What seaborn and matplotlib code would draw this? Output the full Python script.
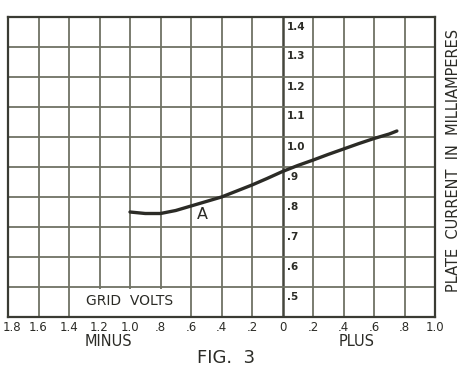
"""
plot.py — Redraw of the vintage 'FIG. 3' grid-volts vs plate-current curve.
"""

import matplotlib
matplotlib.use("Agg")
import matplotlib.pyplot as plt
import matplotlib.patches as mpatches
import matplotlib.transforms as mtransforms
import pandas as pd
import seaborn as sns


# ── Data ─────────────────────────────────────────────────────────────────────
GRID_VOLTS    = [-1.0, -0.9, -0.8, -0.7, -0.6, -0.5, -0.4, -0.3, -0.2, -0.1,
                 0.0, 0.1, 0.2, 0.3, 0.4, 0.5, 0.6, 0.7, 0.75]
PLATE_CURRENT = [0.750, 0.745, 0.745, 0.755, 0.770, 0.785, 0.800, 0.820, 0.840, 0.862,
                 0.885, 0.905, 0.923, 0.942, 0.960, 0.978, 0.995, 1.010, 1.020]

X_TICKS  = [-1.8, -1.6, -1.4, -1.2, -1.0, -0.8, -0.6, -0.4, -0.2, 0.0,
            0.2, 0.4, 0.6, 0.8, 1.0]
X_LABELS = ["1.8", "1.6", "1.4", "1.2", "1.0", ".8", ".6", ".4", ".2", "0",
            ".2", ".4", ".6", ".8", "1.0"]
Y_TICKS  = [0.5, 0.6, 0.7, 0.8, 0.9, 1.0, 1.1, 1.2, 1.3, 1.4]
Y_LABELS = [".5", ".6", ".7", ".8", ".9", "1.0", "1.1", "1.2", "1.3", "1.4"]

INK  = "#2b2b26"
GRID = "#6f7264"

# ── Figure ───────────────────────────────────────────────────────────────────
sns.set_style("white")
plt.rcParams["font.family"] = ["DejaVu Sans"]

fig = plt.figure(figsize=(4.66, 3.71), dpi=100)
ax = fig.add_axes([8 / 466, 1 - 317 / 371, 427 / 466, 300 / 371])

ax.set_xlim(-1.8, 1.0)
ax.set_ylim(0.4, 1.4)

# grid
for x in X_TICKS[1:-1]:
    lw = 1.8 if x == 0 else 1.3
    col = "#45473d" if x == 0 else GRID
    ax.axvline(x, color=col, lw=lw, zorder=1)
for y in Y_TICKS[:-1]:
    ax.axhline(y, color=GRID, lw=1.3, zorder=1)
for side in ax.spines.values():
    side.set_color("#3a3b33")
    side.set_linewidth(1.6)

# curve
df = pd.DataFrame({"volts": GRID_VOLTS, "current": PLATE_CURRENT})
sns.lineplot(data=df, x="volts", y="current", ax=ax, color=INK, lw=2.4, zorder=3)
ax.text(-0.525, 0.742, "A", fontsize=11.5, color=INK, ha="center", va="center")

# y labels inside, right of the zero line
for y, lab in zip(Y_TICKS, Y_LABELS):
    ax.text(0.03, y - 0.015, lab, fontsize=7.5, color=INK, ha="left", va="top",
            fontweight="bold")

# "GRID VOLTS" box in the bottom row
ax.add_patch(mpatches.Rectangle((-1.39, 0.405), 0.78, 0.09, facecolor="white",
                                edgecolor="none", zorder=2))
ax.text(-1.0, 0.452, "GRID  VOLTS", fontsize=10, color=INK,
        ha="center", va="center", zorder=3)

ax.set_xticks(X_TICKS)
ax.set_xticklabels(X_LABELS, fontsize=8.5, color=INK)
ax.set_yticks([])
ax.tick_params(axis="x", length=0, pad=3)
# keep the leftmost label inside the canvas
first = ax.get_xticklabels()[0]
first.set_transform(first.get_transform() +
                    mtransforms.ScaledTranslation(3.5 / 100, 0, fig.dpi_scale_trans))
ax.set_xlabel("")
ax.set_ylabel("")

fig.text(108 / 466, 1 - 342 / 371, "MINUS", fontsize=10.5, color=INK,
         ha="center", va="center")
fig.text(357 / 466, 1 - 342 / 371, "PLUS", fontsize=10.5, color=INK,
         ha="center", va="center")
fig.text(226 / 466, 1 - 358 / 371, "FIG.  3", fontsize=13, color=INK,
         ha="center", va="center")
fig.text(453 / 466, 1 - 160 / 371, "PLATE  CURRENT  IN  MILLIAMPERES",
         fontsize=10.5, color=INK, rotation=90, ha="center", va="center")

fig.savefig("out.png", dpi=100, facecolor="white")
